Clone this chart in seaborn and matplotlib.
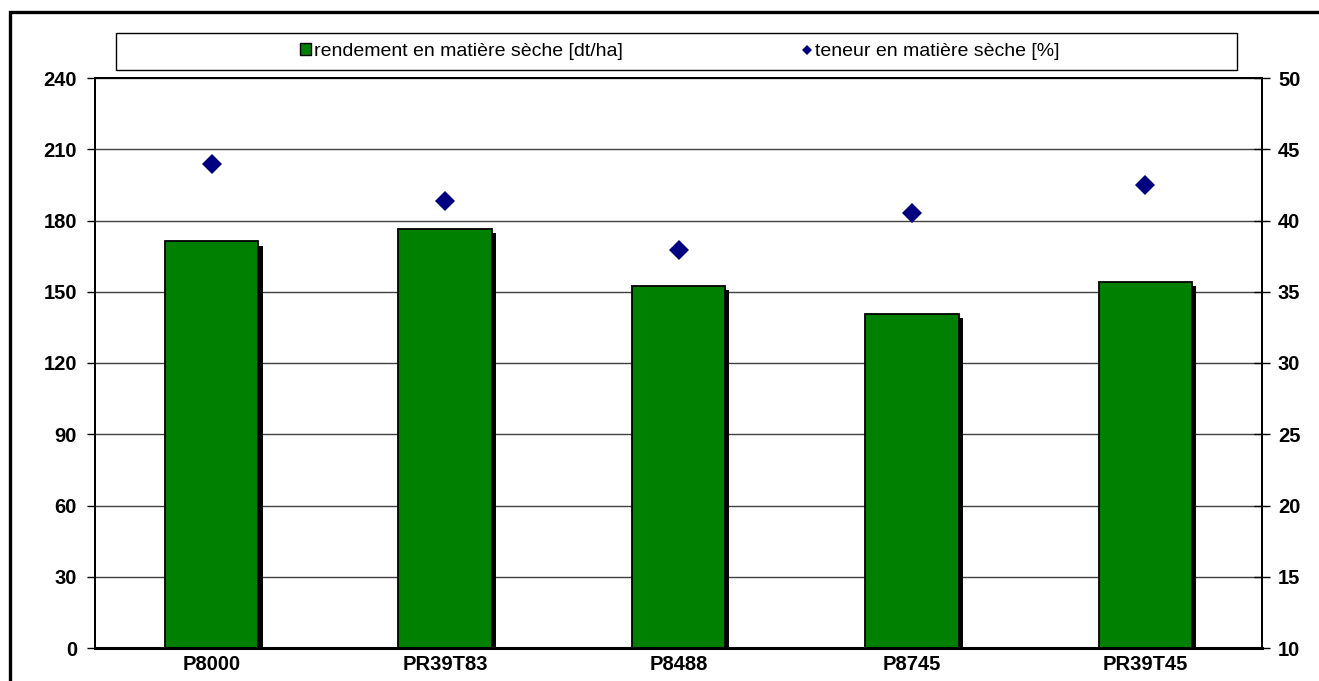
import pandas as pd
import seaborn as sns
import matplotlib.pyplot as plt
import matplotlib.patheffects as pe
from matplotlib.patches import Rectangle, Patch
from matplotlib.lines import Line2D

# Data
hybrides = ['P8000', 'PR39T83', 'P8488', 'P8745', 'PR39T45']
rendement = [171.2, 176.3, 152.6, 140.5, 154.0]   # dt/ha, left axis
teneur = [44.0, 41.4, 37.9, 40.5, 42.5]           # %, right axis
left_ticks = [0, 30, 60, 90, 120, 150, 180, 210, 240]
right_ticks = [10, 15, 20, 25, 30, 35, 40, 45, 50]
legend_labels = ['rendement en matière sèche [dt/ha]', 'teneur en matière sèche [%]']

GREEN = '#008000'
NAVY = '#000080'

sns.set_style('white')
plt.rcParams['font.family'] = ['Liberation Sans', 'DejaVu Sans']
plt.rcParams['text.color'] = 'black'
plt.rcParams['xtick.color'] = 'black'
plt.rcParams['ytick.color'] = 'black'
plt.rcParams['axes.labelcolor'] = 'black'

df = pd.DataFrame({'hybride': hybrides, 'rendement': rendement, 'teneur': teneur})

W, H = 1319, 681
fig = plt.figure(figsize=(W / 100, H / 100), dpi=100)
ax = fig.add_axes([95 / W, 1 - 648 / H, (1262 - 95) / W, (648 - 78) / H])

# Bars with a black drop shadow
sns.barplot(data=df, x='hybride', y='rendement', color=GREEN, saturation=1,
            width=0.4, edgecolor='black', linewidth=1.3, ax=ax)
for bar in ax.patches:
    bar.set_path_effects([pe.SimplePatchShadow(offset=(3, -3), shadow_rgbFace='black', alpha=1.0),
                          pe.Normal()])

# Diamonds on the secondary axis
ax2 = ax.twinx()
sns.pointplot(data=df, x='hybride', y='teneur', color=NAVY, marker='D',
              linestyle='none', markersize=10, markeredgewidth=0,
              errorbar=None, ax=ax2)

ax.set_xlim(-0.5, len(hybrides) - 0.5)
ax.set_ylim(left_ticks[0], left_ticks[-1])
ax2.set_ylim(right_ticks[0], right_ticks[-1])

ax.set_yticks(left_ticks)
ax.set_yticklabels([str(t) for t in left_ticks], fontweight='bold', fontsize=14.5, color='black')
ax2.set_yticks(right_ticks)
ax2.set_yticklabels([str(t) for t in right_ticks], fontweight='bold', fontsize=14.5, color='black')
ax.set_xticks(range(len(hybrides)))
ax.set_xticklabels(hybrides, fontweight='bold', fontsize=14.5, color='black')
ax.set_xticks([i - 0.5 for i in range(len(hybrides) + 1)], minor=True)

ax.tick_params(axis='x', which='major', length=0, pad=5)
ax.tick_params(axis='x', which='minor', direction='inout', length=10, width=1, color='black')
ax.tick_params(axis='y', direction='out', length=6, width=1, color='black', pad=7, left=True)
ax2.tick_params(axis='y', direction='inout', length=11, width=1, color='black', pad=6, right=True)

ax.set_xlabel('')
ax.set_ylabel('')
ax2.set_ylabel('')

ax.set_axisbelow(True)
ax.grid(False)
ax.yaxis.grid(True, color='#404040', linewidth=1)
ax2.grid(False)

for a in (ax, ax2):
    for side, sp in a.spines.items():
        sp.set_visible(True)
        sp.set_color('black')
        sp.set_linewidth(1.4)
ax.spines['bottom'].set_linewidth(2.2)

# Legend box above the plot
fig.patches.append(Rectangle((116 / W, 1 - 70 / H), (1237 - 116) / W, 37 / H,
                             transform=fig.transFigure, fill=False,
                             edgecolor='black', linewidth=1))
handles = [Patch(facecolor=GREEN, edgecolor='black', linewidth=1),
           Line2D([], [], marker='D', color=NAVY, linestyle='none', markersize=5.5, markeredgewidth=0)]
fig.legend(handles, legend_labels, loc='center', bbox_to_anchor=(680 / W, 1 - 51.5 / H),
           ncol=2, frameon=False, fontsize=14, columnspacing=9.2,
           handlelength=0.55, handleheight=0.55, handletextpad=0.15, labelcolor='black')

# Thick outer frame (runs off the right and bottom edges)
fig.patches.append(Rectangle((10 / W, -0.05), 1.1, 1 - 12 / H + 0.05,
                             transform=fig.transFigure, fill=False,
                             edgecolor='black', linewidth=2.4, clip_on=False))

fig.savefig('out.png', dpi=100)
